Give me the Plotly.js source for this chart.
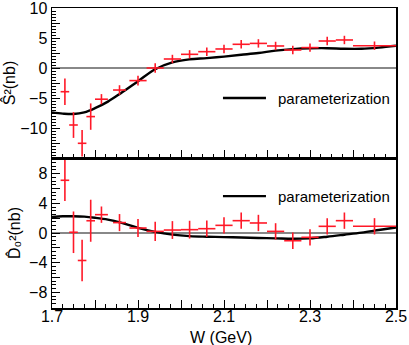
<!DOCTYPE html>
<html>
<head>
<meta charset="utf-8">
<script src="https://cdn.plot.ly/plotly-3.0.1.min.js"></script>
<style>
  html, body { margin: 0; padding: 0; background: #fff; }
  #chart { width: 409px; height: 345px; }
</style>
</head>
<body>
<div id="chart"></div>
<script>
// measured points, W in GeV
var W = [1.73, 1.75, 1.77, 1.79, 1.815, 1.857, 1.90, 1.94, 1.98, 2.02,
         2.06, 2.10, 2.14, 2.18, 2.22, 2.26, 2.30, 2.34, 2.38, 2.45];
var dW = [0.01, 0.01, 0.01, 0.01, 0.015, 0.015, 0.02, 0.02, 0.02, 0.02,
          0.02, 0.02, 0.02, 0.02, 0.02, 0.02, 0.02, 0.02, 0.02, 0.05];

// S^2 (nb)
var S2 = [-3.95, -9.5, -12.55, -8.1, -5.2, -3.67, -2.1, 0.0, 1.5, 2.28,
          2.72, 3.17, 3.95, 4.1, 3.67, 3.0, 3.4, 4.5, 4.67, 3.72];
var S2err = [2.2, 2.15, 2.2, 2.2, 0.85, 0.8, 0.8, 0.8, 0.7, 0.7,
             0.7, 0.7, 0.7, 0.7, 0.7, 0.7, 0.7, 0.7, 0.7, 0.7];

// D0^2 (nb)
var D02 = [7.1, 0.1, -3.7, 1.65, 2.47, 1.4, 0.67, 0.22, 0.4, 0.45,
           0.58, 1.03, 1.66, 1.35, 0.22, -1.04, -0.58, 0.9, 1.66, 0.9];
var D02err = [2.8, 2.8, 2.8, 2.83, 1.1, 1.15, 1.2, 1.3, 1.2, 1.2,
              1.1, 1.1, 1.1, 1.1, 1.1, 1.1, 1.1, 1.1, 1.1, 1.1];

// parameterization curves
var Wfit = [1.70, 1.725, 1.75, 1.775, 1.80, 1.83, 1.86, 1.90, 1.94, 1.98, 2.02, 2.06,
            2.10, 2.14, 2.18, 2.22, 2.26, 2.30, 2.34, 2.38, 2.42, 2.46, 2.50];
var S2fit = [-7.4, -7.6, -7.67, -7.4, -6.7, -5.6, -4.2, -2.2, -0.2, 0.95, 1.45, 1.65,
             1.9, 2.2, 2.5, 2.9, 3.15, 3.28, 3.3, 3.2, 3.2, 3.4, 3.7];
var D02fit = [2.15, 2.25, 2.25, 2.2, 2.05, 1.8, 1.4, 0.7, 0.15, -0.22, -0.42, -0.5,
              -0.55, -0.6, -0.67, -0.72, -0.78, -0.72, -0.5, -0.23, 0.05, 0.4, 0.75];

var xTicks = [1.7, 1.8, 1.9, 2.0, 2.1, 2.2, 2.3, 2.4, 2.5];
var xLabels = ['1.7', '', '1.9', '', '2.1', '', '2.3', '', '2.5'];
var yTopTicks = [-15, -12.5, -10, -7.5, -5, -2.5, 0, 2.5, 5, 7.5, 10];
var yTopLabels = ['', '', '\u221210', '', '\u22125', '', '0', '', '5', '', '10'];
var yBotTicks = [-10, -8, -6, -4, -2, 0, 2, 4, 6, 8, 10];
var yBotLabels = ['', '\u22128', '', '\u22124', '', '0', '', '4', '', '8', ''];

var legendText = 'parameterization';
var xTitle = 'W (GeV)';

var red = 'rgb(255,25,40)';
var font = 'Liberation Sans, Arial, sans-serif';

function pts(y, err, xa, ya) {
    return {
        x: W, y: y, xaxis: xa, yaxis: ya,
        type: 'scatter', mode: 'markers',
        marker: {size: 1, color: red},
        error_x: {type: 'data', array: dW, color: red, thickness: 1.6, width: 0},
        error_y: {type: 'data', array: err, color: red, thickness: 1.6, width: 0},
        showlegend: false, hoverinfo: 'skip'
    };
}

function fit(y, xa, ya) {
    return {
        x: Wfit, y: y, xaxis: xa, yaxis: ya, type: 'scatter', mode: 'lines',
        line: {color: 'black', width: 2.4, shape: 'spline'},
        showlegend: false, hoverinfo: 'skip'
    };
}

var data = [
    fit(S2fit, 'x2', 'y2'),
    pts(S2, S2err, 'x2', 'y2'),
    fit(D02fit, 'x', 'y'),
    pts(D02, D02err, 'x', 'y')
];

var axisCommon = {
    showline: true, mirror: true, linecolor: 'black', linewidth: 1.5,
    showgrid: false, ticks: 'inside', ticklen: 8, tickwidth: 1, tickcolor: 'black',
    ticklabeloverflow: 'allow',
    tickfont: {family: font, size: 16, color: 'black'}
};
var minorX = {dtick: 0.025, ticklen: 4, ticks: 'inside', tickcolor: 'black', showgrid: false};

// legend sample line + label, placed in paper coordinates
function legendShape(yp) {
    return {type: 'line', xref: 'paper', yref: 'paper', x0: 0.497, x1: 0.622, y0: yp, y1: yp,
            line: {color: 'black', width: 2.4}};
}
function legendLabel(yp) {
    return {text: legendText, xref: 'paper', yref: 'paper', x: 0.651, y: yp,
            xanchor: 'left', yanchor: 'middle', showarrow: false,
            font: {family: font, size: 15, color: 'black'}};
}

var layout = {
    width: 409, height: 345,
    margin: {l: 52, r: 13, t: 8, b: 37},
    paper_bgcolor: 'white', plot_bgcolor: 'white',
    font: {family: font, color: 'black'},
    showlegend: false,
    xaxis: Object.assign({}, axisCommon, {
        anchor: 'y', range: [1.7, 2.5], tickmode: 'array',
        tickvals: xTicks, ticktext: xLabels, zeroline: false,
        ticklabelstandoff: -7,
        minor: minorX
    }),
    xaxis2: Object.assign({}, axisCommon, {
        anchor: 'y2', matches: 'x', range: [1.7, 2.5], tickmode: 'array',
        tickvals: xTicks, showticklabels: false, zeroline: false,
        minor: minorX
    }),
    yaxis: Object.assign({}, axisCommon, {
        anchor: 'x', domain: [0, 0.5], range: [-10.1, 10.1],
        tickmode: 'array', tickvals: yBotTicks, ticktext: yBotLabels,
        zeroline: true, zerolinecolor: '#888', zerolinewidth: 1.2,
        minor: {dtick: 0.5, ticklen: 4, ticks: 'inside', tickcolor: 'black', showgrid: false},
        title: {text: 'D\u0302\u2080\u00B2(nb)', font: {family: font, size: 16}, standoff: 4}
    }),
    yaxis2: Object.assign({}, axisCommon, {
        anchor: 'x2', domain: [0.5, 1], range: [-15, 10],
        tickmode: 'array', tickvals: yTopTicks, ticktext: yTopLabels,
        zeroline: true, zerolinecolor: '#888', zerolinewidth: 1.2,
        minor: {dtick: 0.5, ticklen: 4, ticks: 'inside', tickcolor: 'black', showgrid: false},
        title: {text: '\u015C\u00B2(nb)', font: {family: font, size: 16}, standoff: 4}
    }),
    shapes: [legendShape(0.70), legendShape(0.373)],
    annotations: [
        legendLabel(0.70), legendLabel(0.373),
        {text: xTitle, xref: 'paper', yref: 'paper', x: 0.49, y: -0.097,
         xanchor: 'center', yanchor: 'middle', showarrow: false,
         font: {family: font, size: 16, color: 'black'}}
    ]
};

Plotly.newPlot('chart', data, layout, {staticPlot: true, displayModeBar: false});
</script>
</body>
</html>
